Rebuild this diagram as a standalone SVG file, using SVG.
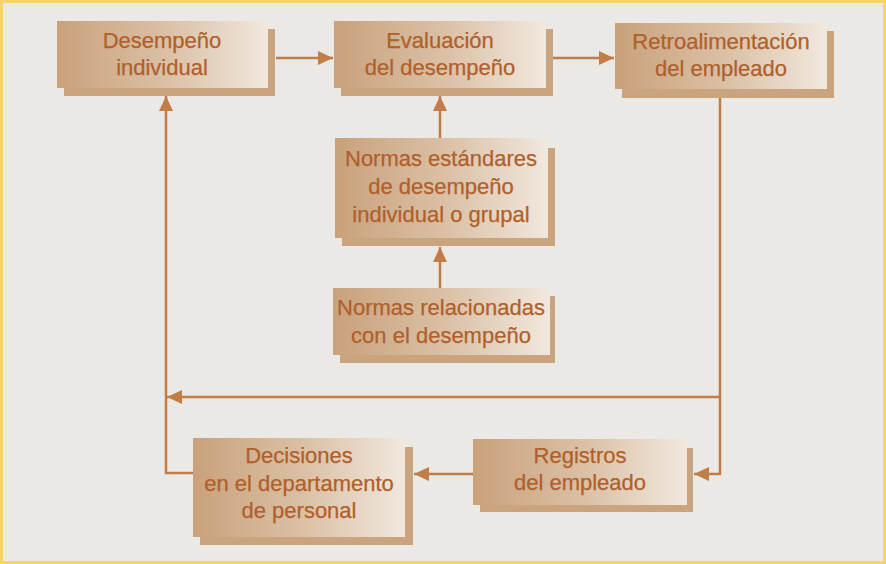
<svg xmlns="http://www.w3.org/2000/svg" width="886" height="564" viewBox="0 0 886 564">
<defs>
<linearGradient id="g" x1="0" y1="0" x2="1" y2="0">
<stop offset="0" stop-color="#c9a17b"/>
<stop offset="0.55" stop-color="#dcc2a8"/>
<stop offset="1" stop-color="#f1e8de"/>
</linearGradient>
<marker id="ah" markerUnits="userSpaceOnUse" markerWidth="16" markerHeight="14" refX="15" refY="7" orient="auto">
<path d="M0,0 L15,7 L0,14 Z" fill="#c27c47"/>
</marker>
<style>
.sh{fill:#c9a47f}
.bx{fill:url(#g)}
.t{font-family:"Liberation Sans",Arial,sans-serif;font-size:22px;fill:#b0602a;stroke:#b0602a;stroke-width:0.25;text-anchor:middle}
.c{fill:none;stroke:#c27c47;stroke-width:2.5}
</style>
</defs>
<rect x="1.5" y="1.5" width="883" height="561" fill="#ebe9e6" stroke="#f6d46c" stroke-width="3"/>
<g id="connectors">
<path class="c" d="M276,58 H333" marker-end="url(#ah)"/>
<path class="c" d="M553,58 H614" marker-end="url(#ah)"/>
<path class="c" d="M440,138 V96" marker-end="url(#ah)"/>
<path class="c" d="M440,288 V247" marker-end="url(#ah)"/>
<path class="c" d="M720,98 V474 H694" marker-end="url(#ah)"/>
<path class="c" d="M720,397 H167" marker-end="url(#ah)"/>
<path class="c" d="M473,474 H414" marker-end="url(#ah)"/>
<path class="c" d="M193,473 H166 V96" marker-end="url(#ah)"/>
</g>
<g id="n1">
<rect class="sh" x="64" y="29" width="211" height="67"/>
<rect class="bx" x="57" y="21" width="211" height="67"/>
<text class="t" x="162" y="48">Desempeño</text>
<text class="t" x="162" y="75">individual</text>
</g>
<g id="n2">
<rect class="sh" x="341" y="29" width="212" height="67"/>
<rect class="bx" x="334" y="21" width="212" height="67"/>
<text class="t" x="440" y="48">Evaluación</text>
<text class="t" x="440" y="75">del desempeño</text>
</g>
<g id="n3">
<rect class="sh" x="622" y="31" width="212" height="67"/>
<rect class="bx" x="615" y="23" width="212" height="66"/>
<text class="t" x="721" y="49">Retroalimentación</text>
<text class="t" x="721" y="76">del empleado</text>
</g>
<g id="n4">
<rect class="sh" x="342" y="148" width="213" height="98"/>
<rect class="bx" x="335" y="138" width="213" height="100"/>
<text class="t" x="441" y="166">Normas estándares</text>
<text class="t" x="441" y="194">de desempeño</text>
<text class="t" x="441" y="222">individual o grupal</text>
</g>
<g id="n5">
<rect class="sh" x="340" y="296" width="215" height="67"/>
<rect class="bx" x="333" y="288" width="217" height="67"/>
<text class="t" x="441" y="315">Normas relacionadas</text>
<text class="t" x="441" y="343">con el desempeño</text>
</g>
<g id="n6">
<rect class="sh" x="200" y="447" width="213" height="98"/>
<rect class="bx" x="193" y="438" width="212" height="99"/>
<text class="t" x="299" y="463">Decisiones</text>
<text class="t" x="299" y="491">en el departamento</text>
<text class="t" x="299" y="518">de personal</text>
</g>
<g id="n7">
<rect class="sh" x="480" y="448" width="213" height="64"/>
<rect class="bx" x="473" y="439" width="214" height="66"/>
<text class="t" x="580" y="463">Registros</text>
<text class="t" x="580" y="490">del empleado</text>
</g>
</svg>
